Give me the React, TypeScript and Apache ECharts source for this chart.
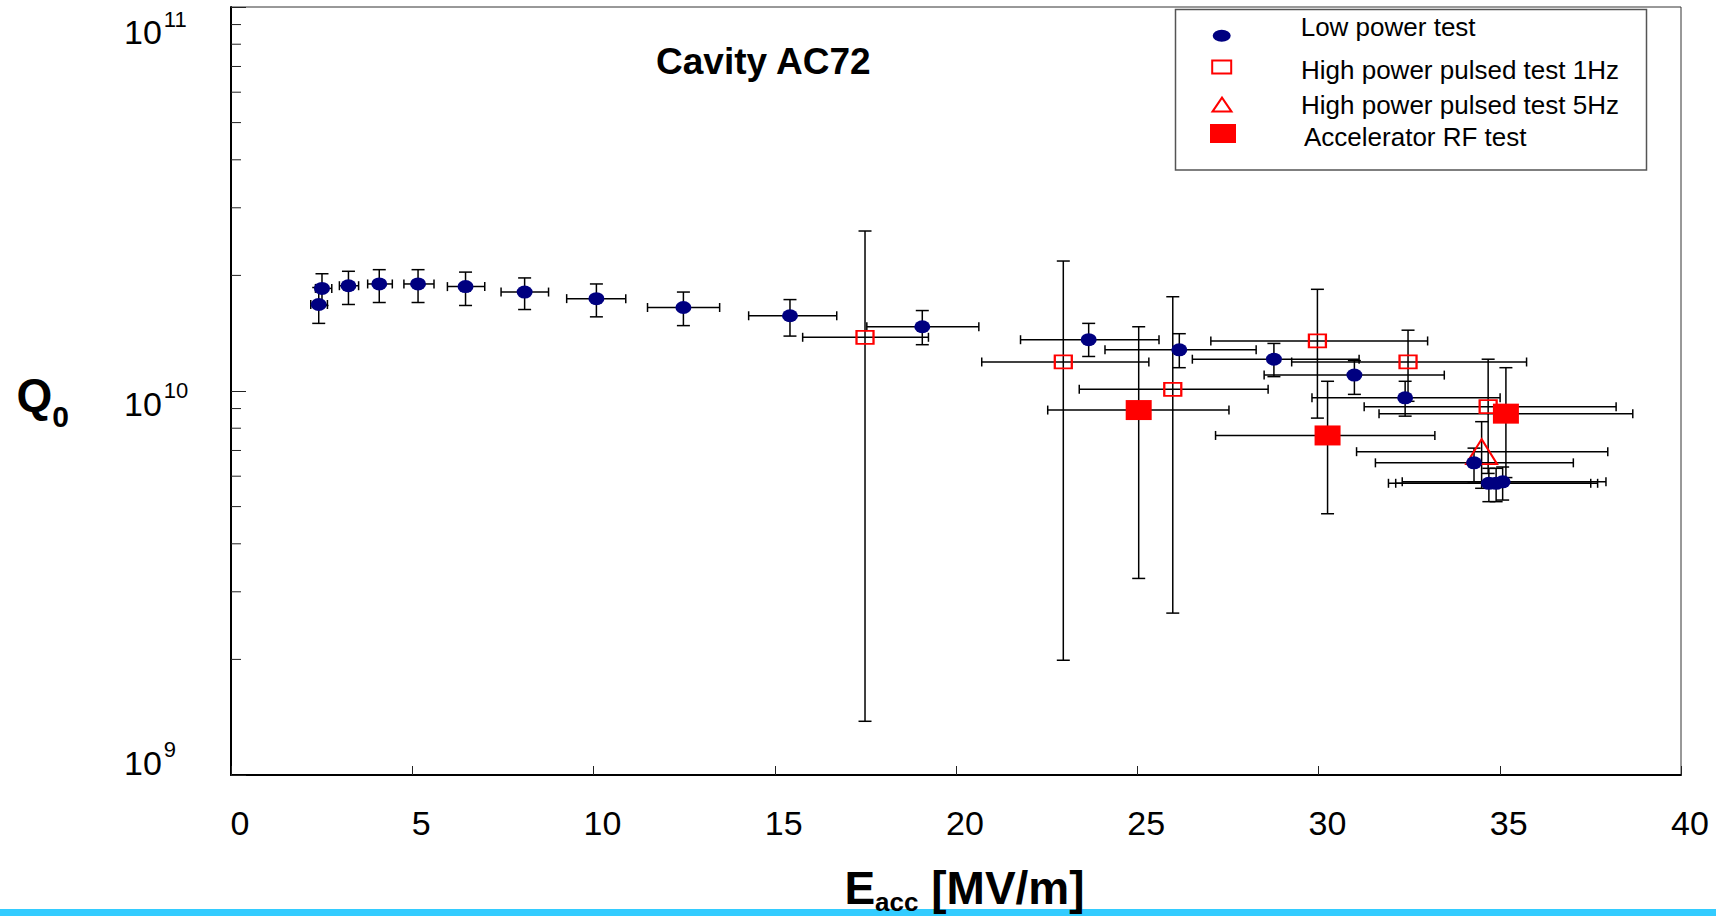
import React, { useEffect, useRef } from 'react';
import * as echarts from 'echarts';

const FONT = 'Liberation Sans, Arial, sans-serif';

// ---- Low power test ----
const lowPowerE = [2.42, 2.51, 3.24, 4.09, 5.16, 6.47, 8.10, 10.08, 12.48, 15.42, 19.07, 23.66, 26.16, 28.77, 30.99, 32.39, 34.29, 34.70, 34.90, 35.08];
const lowPowerELow = [2.20, 2.33, 2.99, 3.77, 4.77, 5.97, 7.45, 9.26, 11.49, 14.28, 17.54, 21.78, 24.11, 26.52, 28.50, 29.82, 31.57, 31.93, 32.13, 32.31];
const lowPowerEHigh = [2.66, 2.78, 3.52, 4.45, 5.60, 7.00, 8.76, 10.89, 13.48, 16.71, 20.63, 25.60, 28.28, 31.12, 33.47, 35.01, 37.03, 37.51, 37.70, 37.93];
const lowPowerQ = [1.68e10, 1.85e10, 1.88e10, 1.90e10, 1.90e10, 1.87e10, 1.81e10, 1.74e10, 1.65e10, 1.57e10, 1.47e10, 1.36e10, 1.28e10, 1.21e10, 1.10e10, 9.6e9, 6.5e9, 5.75e9, 5.75e9, 5.8e9];
const lowPowerQLow = [1.50e10, 1.67e10, 1.68e10, 1.70e10, 1.70e10, 1.67e10, 1.63e10, 1.56e10, 1.48e10, 1.39e10, 1.32e10, 1.23e10, 1.15e10, 1.09e10, 0.98e10, 8.6e9, 5.8e9, 5.15e9, 5.15e9, 5.2e9];
const lowPowerQHigh = [1.86e10, 2.02e10, 2.05e10, 2.07e10, 2.07e10, 2.04e10, 1.97e10, 1.90e10, 1.81e10, 1.73e10, 1.62e10, 1.50e10, 1.41e10, 1.33e10, 1.20e10, 1.06e10, 7.1e9, 6.29e9, 6.29e9, 6.34e9];

// ---- High power pulsed test 1Hz ----
const pulsed1E = [17.49, 22.96, 25.98, 29.97, 32.47, 34.68];
const pulsed1ELow = [15.77, 20.71, 23.40, 27.03, 29.26, 31.26];
const pulsed1EHigh = [19.24, 25.32, 28.61, 33.01, 35.74, 38.21];
const pulsed1Q = [1.38e10, 1.19e10, 1.01e10, 1.35e10, 1.19e10, 9.1e9];
const pulsed1QLow = [1.38e9, 1.99e9, 2.64e9, 8.5e9, 9.4e9, 6.1e9];
const pulsed1QHigh = [2.61e10, 2.18e10, 1.76e10, 1.84e10, 1.44e10, 1.21e10];

// ---- High power pulsed test 5Hz ----
const pulsed5E = [34.50];
const pulsed5ELow = [31.05];
const pulsed5EHigh = [37.98];
const pulsed5Q = [6.95e9];
const pulsed5QLow = [5.58e9];
const pulsed5QHigh = [8.32e9];

// ---- Accelerator RF test ----
const accelE = [25.04, 30.25, 35.17];
const accelELow = [22.53, 27.16, 31.67];
const accelEHigh = [27.53, 33.21, 38.67];
const accelQ = [8.92e9, 7.66e9, 8.73e9];
const accelQLow = [3.25e9, 4.79e9, 5.95e9];
const accelQHigh = [1.47e10, 1.06e10, 1.15e10];

// ---- axes ----
const xMin = 0;
const xMax = 40;
const xInterval = 5;
const yMin = 1e9;
const yMax = 1e11;
const yMinorTicks = [2e9, 3e9, 4e9, 5e9, 6e9, 7e9, 8e9, 9e9, 2e10, 3e10, 4e10, 5e10, 6e10, 7e10, 8e10, 9e10];

const seriesNames = ['Low power test', 'High power pulsed test 1Hz', 'High power pulsed test 5Hz', 'Accelerator RF test'];

const ELLIPSE = 'path://M0 1A1 1 0 1 1 2 1A1 1 0 1 1 0 1Z';

function points(E: number[], Q: number[]) {
  return E.map((e, i) => [e, Q[i]]);
}
function errRows(E: number[], Q: number[], El: number[], Eh: number[], Ql: number[], Qh: number[]) {
  return E.map((e, i) => [e, Q[i], El[i], Eh[i], Ql[i], Qh[i]]);
}

function renderErrorBar(_params: any, api: any) {
  const x = api.value(0);
  const y = api.value(1);
  const c = api.coord([x, y]);
  const l = api.coord([api.value(2), y]);
  const r = api.coord([api.value(3), y]);
  const b = api.coord([x, api.value(4)]);
  const t = api.coord([x, api.value(5)]);
  const style = { stroke: '#000', lineWidth: 1.5, fill: 'none' };
  const ln = (x1: number, y1: number, x2: number, y2: number) => ({ type: 'line', shape: { x1, y1, x2, y2 }, style });
  const ch = 4.5;
  const cw = 6.5;
  return {
    type: 'group',
    children: [
      ln(l[0], c[1], r[0], c[1]),
      ln(l[0], c[1] - ch, l[0], c[1] + ch),
      ln(r[0], c[1] - ch, r[0], c[1] + ch),
      ln(c[0], t[1], c[0], b[1]),
      ln(c[0] - cw, t[1], c[0] + cw, t[1]),
      ln(c[0] - cw, b[1], c[0] + cw, b[1]),
    ],
  };
}

function renderMinorTick(_params: any, api: any) {
  const p = api.coord([api.value(0), api.value(1)]);
  return { type: 'line', shape: { x1: p[0], y1: p[1], x2: p[0] + 10, y2: p[1] }, style: { stroke: '#222', lineWidth: 1 } };
}

function errSeries(name: string, data: number[][]) {
  return {
    type: 'custom',
    name: name + ' error',
    data,
    renderItem: renderErrorBar,
    encode: { x: [0, 2, 3], y: [1, 4, 5] },
    z: 1,
    silent: true,
    clip: false,
  };
}

const yRichBase = { color: '#000', fontFamily: FONT, verticalAlign: 'top' };
const yRich: any = {
  a11: { ...yRichBase, fontSize: 34, height: 34, padding: [57, 0, 7, 0] },
  s11: { ...yRichBase, fontSize: 22, height: 22, padding: [50, 0, 0, 2] },
  a10: { ...yRichBase, fontSize: 34, height: 34, padding: [32, 0, 7, 0] },
  s10: { ...yRichBase, fontSize: 22, height: 22, padding: [25, 0, 0, 2] },
  a9: { ...yRichBase, fontSize: 34, height: 34, padding: [7, 0, 32, 0] },
  s9: { ...yRichBase, fontSize: 22, height: 22, padding: [0, 0, 0, 2] },
};

function legendTextStyle(padLeft: number, padTop: number, padBottom: number) {
  return {
    fontSize: 26, fontFamily: FONT, color: '#000',
    padding: [0, 0, 0, padLeft],
    rich: {
      t: { fontSize: 26, fontFamily: FONT, color: '#000', height: 30, padding: [padTop, 0, padBottom, 0] },
    },
  };
}
const legendFormatter = (name: string) => `{t|${name}}`;

export default function App() {
  const ref = useRef<HTMLDivElement>(null);
  useEffect(() => {
    if (!ref.current) return;
    const chart = echarts.init(ref.current, null, { renderer: 'svg' });
    const option: any = {
      animation: false,
      backgroundColor: '#fff',
      textStyle: { fontFamily: FONT },
      title: {
        text: 'Cavity AC72',
        left: 656,
        top: 42.5,
        padding: 0,
        textStyle: { fontSize: 37, fontWeight: 'bold', fontFamily: FONT, color: '#000' },
      },
      grid: {
        left: 231, right: 45, top: 7, bottom: 141,
        show: true, borderColor: '#333', borderWidth: 1,
        outerBoundsMode: 'none',
      },
      legend: [
        {
          left: 1212.7, top: 14, padding: 0, selectedMode: false, itemWidth: 18, itemHeight: 12,
          symbolKeepAspect: false, formatter: legendFormatter,
          data: [{ name: seriesNames[0], icon: ELLIPSE, itemStyle: { color: '#000080', borderWidth: 0 } }],
          textStyle: legendTextStyle(65, 0, 17.6),
        },
        {
          left: 1211.2, top: 57.4, padding: 0, selectedMode: false, itemWidth: 19, itemHeight: 13,
          symbolKeepAspect: false, formatter: legendFormatter,
          data: [{ name: seriesNames[1], icon: 'rect', itemStyle: { color: 'rgba(0,0,0,0)', borderColor: '#FF0000', borderWidth: 2 } }],
          textStyle: legendTextStyle(64.8, 7, 0),
        },
        {
          left: 1211.5, top: 92.1, padding: 0, selectedMode: false, itemWidth: 19, itemHeight: 14,
          symbolKeepAspect: false, formatter: legendFormatter,
          data: [{ name: seriesNames[2], icon: 'triangle', itemStyle: { color: 'rgba(0,0,0,0)', borderColor: '#FF0000', borderWidth: 2 } }],
          textStyle: legendTextStyle(64.5, 1, 0),
        },
        {
          left: 1210, top: 123.6, padding: 0, selectedMode: false, itemWidth: 26, itemHeight: 19,
          symbolKeepAspect: false, formatter: legendFormatter,
          data: [{ name: seriesNames[3], icon: 'rect', itemStyle: { color: '#FF0000', borderWidth: 0 } }],
          textStyle: legendTextStyle(63, 6.2, 0),
        },
      ],
      graphic: [
        { type: 'rect', shape: { x: 0, y: 909, width: 1716, height: 7 }, style: { fill: '#33CCFF' }, z: -10, silent: true },
        { type: 'rect', shape: { x: 1175.5, y: 9.5, width: 471, height: 160.5 }, style: { fill: '#fff', stroke: '#555', lineWidth: 1.5 }, z: -5, silent: true },
      ],
      xAxis: {
        type: 'value', min: xMin, max: xMax, interval: xInterval,
        axisLine: { show: true, onZero: false, lineStyle: { color: '#000', width: 2 } },
        axisTick: { show: true, inside: true, length: 9, lineStyle: { color: '#222', width: 1 } },
        axisLabel: { margin: 31, fontSize: 34, color: '#000', fontFamily: FONT, padding: [0, 0, 0, 18] },
        splitLine: { show: false },
        name: '{e|E}{s|acc}{u| [MV/m]}',
        nameLocation: 'middle', nameGap: 88.5, nameMoveOverlap: false,
        nameTextStyle: {
          verticalAlign: 'top', align: 'center', padding: [0, 0, 0, 17],
          rich: {
            e: { fontSize: 46, height: 48, fontWeight: 'bold', color: '#000', fontFamily: FONT },
            s: { fontSize: 26, height: 20, fontWeight: 'bold', color: '#000', fontFamily: FONT, verticalAlign: 'bottom' },
            u: { fontSize: 46, height: 48, fontWeight: 'bold', color: '#000', fontFamily: FONT },
          },
        },
      },
      yAxis: {
        type: 'log', logBase: 10, min: yMin, max: yMax,
        axisLine: { show: true, lineStyle: { color: '#000', width: 2 } },
        axisTick: { show: true, inside: true, length: 15, lineStyle: { color: '#222', width: 1 } },
        minorTick: { show: false },
        splitLine: { show: false },
        axisLabel: {
          align: 'left', margin: 107,
          formatter: (v: number) => {
            const e = Math.round(Math.log10(v));
            return `{a${e}|10}{s${e}|${e}}`;
          },
          rich: yRich,
        },
        name: '{q|Q}{z|0}',
        nameLocation: 'middle', nameRotate: 0, nameGap: 162, nameMoveOverlap: false,
        nameTextStyle: {
          align: 'right', verticalAlign: 'middle', padding: [8, 0, 0, 0],
          rich: {
            q: { fontSize: 46, height: 60, fontWeight: 'bold', color: '#000', fontFamily: FONT },
            z: { fontSize: 30, height: 18, fontWeight: 'bold', color: '#000', fontFamily: FONT, verticalAlign: 'bottom' },
          },
        },
      },
      series: [
        {
          type: 'custom', name: 'minor ticks', data: yMinorTicks.map((v) => [xMin, v]),
          renderItem: renderMinorTick, encode: { x: 0, y: 1 }, silent: true, clip: false, z: 1,
        },
        errSeries(seriesNames[0], errRows(lowPowerE, lowPowerQ, lowPowerELow, lowPowerEHigh, lowPowerQLow, lowPowerQHigh)),
        errSeries(seriesNames[1], errRows(pulsed1E, pulsed1Q, pulsed1ELow, pulsed1EHigh, pulsed1QLow, pulsed1QHigh)),
        errSeries(seriesNames[2], errRows(pulsed5E, pulsed5Q, pulsed5ELow, pulsed5EHigh, pulsed5QLow, pulsed5QHigh)),
        errSeries(seriesNames[3], errRows(accelE, accelQ, accelELow, accelEHigh, accelQLow, accelQHigh)),
        {
          type: 'scatter', name: seriesNames[1], data: points(pulsed1E, pulsed1Q),
          symbol: 'rect', symbolSize: [17, 13],
          itemStyle: { color: 'rgba(0,0,0,0)', borderColor: '#FF0000', borderWidth: 2, opacity: 1 }, z: 3,
        },
        {
          type: 'scatter', name: seriesNames[2], data: points(pulsed5E, pulsed5Q),
          symbol: 'triangle', symbolSize: [31, 25],
          itemStyle: { color: 'rgba(0,0,0,0)', borderColor: '#FF0000', borderWidth: 2, opacity: 1 }, z: 3,
        },
        {
          type: 'scatter', name: seriesNames[3], data: points(accelE, accelQ),
          symbol: 'rect', symbolSize: [26, 20],
          itemStyle: { color: '#FF0000', opacity: 1 }, z: 3,
        },
        {
          type: 'scatter', name: seriesNames[0], data: points(lowPowerE, lowPowerQ),
          symbol: ELLIPSE, symbolSize: [16, 13],
          itemStyle: { color: '#000080', opacity: 1 }, z: 4,
        },
      ],
    };
    chart.setOption(option);
    return () => chart.dispose();
  }, []);
  return <div ref={ref} style={{ position: 'fixed', left: 0, top: 0, width: 1726, height: 916 }} />;
}
